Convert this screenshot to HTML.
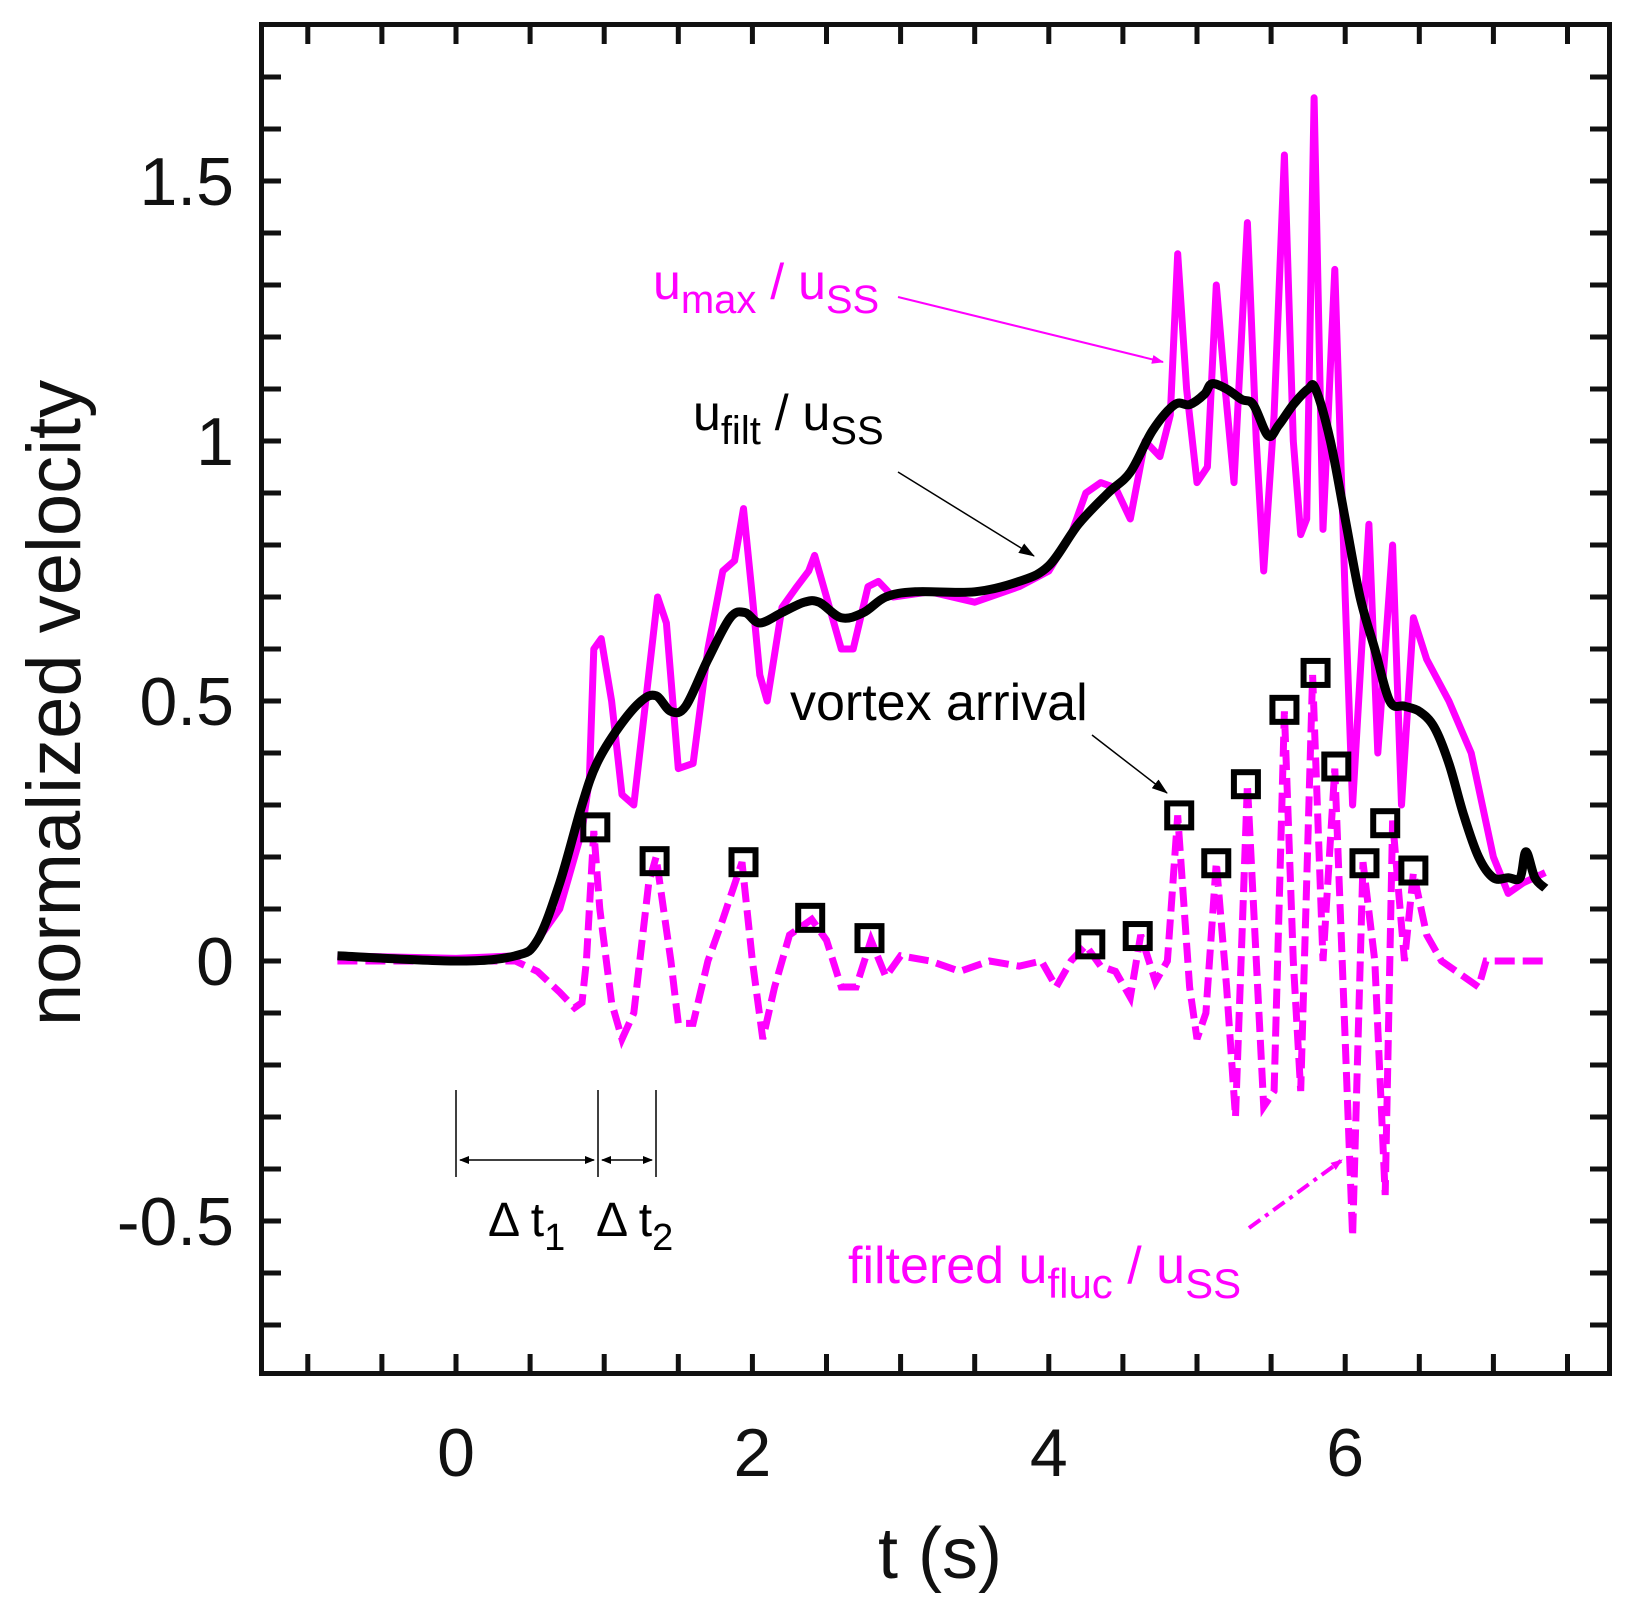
<!DOCTYPE html>
<html><head><meta charset="utf-8"><style>
html,body{margin:0;padding:0;background:#fff;}
svg{display:block;font-family:"Liberation Sans",sans-serif;}
</style></head><body>
<svg id="s" width="1640" height="1609" viewBox="0 0 1640 1609" xmlns="http://www.w3.org/2000/svg">
<defs>
<marker id="am" markerWidth="12" markerHeight="9" refX="11" refY="4.5" orient="auto" markerUnits="userSpaceOnUse"><path d="M0,0 L12,4.5 L0,9 Z" fill="#ff00ff"/></marker>
<marker id="ak" markerWidth="16" markerHeight="11" refX="15" refY="5.5" orient="auto" markerUnits="userSpaceOnUse"><path d="M0,0 L16,5.5 L0,11 Z" fill="#000"/></marker>
<marker id="ak2" markerWidth="10" markerHeight="8" refX="9" refY="4" orient="auto-start-reverse" markerUnits="userSpaceOnUse"><path d="M0,0 L10,4 L0,8 Z" fill="#000"/></marker>
</defs>
<g id="g"></g>
</svg>
<script>
var X=function(t){return 456+148.2*t}, Y=function(v){return 961-520*v};
var g=document.getElementById('g'), h='';
function pl(a,attrs){var p=[];for(var i=0;i<a.length;i+=2)p.push(X(a[i]).toFixed(1)+','+Y(a[i+1]).toFixed(1));h+='<polyline fill="none" points="'+p.join(' ')+'" '+attrs+'/>';}
function smooth(a){var p=[];for(var i=0;i<a.length;i+=2)p.push([X(a[i]),Y(a[i+1])]);var d='M'+p[0][0]+','+p[0][1];for(var i=0;i<p.length-1;i++){var p0=p[Math.max(0,i-1)],p1=p[i],p2=p[i+1],p3=p[Math.min(p.length-1,i+2)];var c1x=p1[0]+(p2[0]-p0[0])/6,c1y=p1[1]+(p2[1]-p0[1])/6,c2x=p2[0]-(p3[0]-p1[0])/6,c2y=p2[1]-(p3[1]-p1[1])/6;d+=' C'+c1x.toFixed(1)+','+c1y.toFixed(1)+' '+c2x.toFixed(1)+','+c2y.toFixed(1)+' '+p2[0].toFixed(1)+','+p2[1].toFixed(1);}return d;}
var umax=[-0.8,0.01,0,0.005,0.4,0.01,0.5,0.02,0.7,0.1,0.85,0.25,0.9,0.35,0.93,0.6,0.98,0.62,1.05,0.5,1.12,0.32,1.2,0.3,1.3,0.55,1.36,0.7,1.42,0.65,1.5,0.37,1.6,0.38,1.7,0.6,1.8,0.75,1.88,0.77,1.94,0.87,2.0,0.7,2.05,0.55,2.1,0.5,2.2,0.68,2.3,0.72,2.38,0.75,2.42,0.78,2.5,0.7,2.6,0.6,2.68,0.6,2.78,0.72,2.85,0.73,2.95,0.7,3.2,0.71,3.5,0.69,3.8,0.72,4.0,0.75,4.15,0.82,4.25,0.9,4.35,0.92,4.45,0.91,4.55,0.85,4.65,1.0,4.75,0.97,4.82,1.05,4.87,1.36,4.93,1.1,5.0,0.92,5.07,0.95,5.13,1.3,5.19,1.1,5.25,0.92,5.34,1.42,5.4,1.0,5.45,0.75,5.52,1.05,5.59,1.55,5.65,1.0,5.7,0.82,5.74,0.85,5.79,1.66,5.85,0.83,5.93,1.33,6.0,0.7,6.05,0.3,6.16,0.84,6.22,0.4,6.32,0.8,6.38,0.3,6.46,0.66,6.55,0.58,6.7,0.5,6.85,0.4,7.0,0.2,7.1,0.13,7.2,0.15,7.35,0.17];
var filt=[-0.8,0.01,0,0.0,0.4,0.01,0.55,0.04,0.7,0.15,0.85,0.3,0.95,0.38,1.1,0.45,1.25,0.5,1.35,0.51,1.45,0.48,1.55,0.49,1.7,0.58,1.85,0.66,1.95,0.67,2.05,0.65,2.2,0.67,2.35,0.69,2.45,0.69,2.6,0.66,2.75,0.67,2.9,0.7,3.1,0.71,3.5,0.71,3.8,0.73,4.0,0.76,4.2,0.84,4.4,0.9,4.55,0.94,4.7,1.02,4.85,1.07,4.95,1.07,5.05,1.09,5.1,1.11,5.2,1.1,5.3,1.08,5.38,1.07,5.48,1.01,5.55,1.03,5.65,1.07,5.75,1.1,5.8,1.1,5.9,1.0,6.0,0.85,6.1,0.7,6.2,0.6,6.3,0.5,6.4,0.49,6.5,0.48,6.6,0.45,6.7,0.38,6.8,0.28,6.9,0.2,7.0,0.16,7.1,0.16,7.18,0.16,7.22,0.21,7.28,0.16,7.35,0.14];
var fluc=[-0.8,0,0.4,0,0.55,-0.02,0.7,-0.06,0.8,-0.09,0.85,-0.08,0.88,0.0,0.93,0.25,0.97,0.1,1.05,-0.08,1.12,-0.15,1.2,-0.1,1.3,0.15,1.35,0.2,1.45,0.0,1.5,-0.12,1.6,-0.12,1.7,0.0,1.8,0.08,1.93,0.19,2.0,0.0,2.07,-0.15,2.15,-0.05,2.25,0.05,2.4,0.08,2.5,0.04,2.6,-0.05,2.7,-0.05,2.8,0.04,2.9,-0.03,3.0,0.01,3.2,0.0,3.4,-0.02,3.6,0.0,3.8,-0.01,3.95,0.0,4.05,-0.05,4.15,0.0,4.25,0.03,4.35,-0.01,4.45,-0.02,4.55,-0.07,4.62,0.05,4.72,-0.04,4.8,0.0,4.87,0.28,4.95,-0.05,5.0,-0.15,5.06,-0.1,5.13,0.19,5.2,-0.05,5.26,-0.3,5.34,0.34,5.4,0.0,5.45,-0.28,5.52,-0.25,5.59,0.48,5.65,0.0,5.7,-0.25,5.78,0.55,5.85,0.0,5.93,0.37,5.98,0.0,6.05,-0.53,6.12,0.19,6.2,0.0,6.27,-0.45,6.32,0.27,6.4,0.0,6.46,0.17,6.55,0.05,6.65,0.0,6.8,-0.03,6.9,-0.05,6.95,0.0,7.1,0.0,7.35,0.0];
pl(umax,'stroke="#ff00ff" stroke-width="7" stroke-linejoin="round"');
pl(fluc,'stroke="#ff00ff" stroke-width="7" stroke-dasharray="20,8"');
h+='<path fill="none" d="'+smooth(filt)+'" stroke="#000" stroke-width="9" stroke-linejoin="round"/>';
var mk=[0.94,0.257,1.34,0.192,1.94,0.19,2.39,0.083,2.79,0.044,4.28,0.032,4.6,0.048,4.88,0.28,5.13,0.188,5.33,0.34,5.59,0.483,5.8,0.554,5.94,0.374,6.13,0.188,6.27,0.265,6.46,0.174];
for(var i=0;i<mk.length;i+=2){h+='<rect x="'+(X(mk[i])-12)+'" y="'+(Y(mk[i+1])-12)+'" width="24" height="24" fill="none" stroke="#000" stroke-width="6"/>';}
var L=259,R=1612,T=22,B=1376;
h+='<rect x="'+(L+2.5)+'" y="'+(T+2.5)+'" width="'+(R-L-5)+'" height="'+(B-T-5)+'" fill="none" stroke="#111" stroke-width="5"/>';
for(var t=-1;t<=7.5;t+=0.5){var x=X(t);h+='<line x1="'+x+'" y1="'+(B-3)+'" x2="'+x+'" y2="'+(B-22)+'" stroke="#111" stroke-width="5"/><line x1="'+x+'" y1="'+(T+3)+'" x2="'+x+'" y2="'+(T+22)+'" stroke="#111" stroke-width="5"/>';}
for(var k=-7;k<=17;k++){var y=Y(k/10);h+='<line x1="'+(L+3)+'" y1="'+y+'" x2="'+(L+22)+'" y2="'+y+'" stroke="#111" stroke-width="5"/><line x1="'+(R-3)+'" y1="'+y+'" x2="'+(R-22)+'" y2="'+y+'" stroke="#111" stroke-width="5"/>';}
var yl=[[1.5,'1.5'],[1,'1'],[0.5,'0.5'],[0,'0'],[-0.5,'-0.5']];
yl.forEach(function(a){h+='<text x="234" y="'+(Y(a[0])+24)+'" font-size="68" text-anchor="end" fill="#111">'+a[1]+'</text>';});
[0,2,4,6].forEach(function(t){h+='<text x="'+X(t)+'" y="1476" font-size="68" text-anchor="middle" fill="#111">'+t+'</text>';});
h+='<text x="940" y="1578" font-size="72" text-anchor="middle" fill="#111">t (s)</text>';
h+='<text transform="translate(80,703) rotate(-90)" font-size="76" text-anchor="middle" fill="#111">normalized velocity</text>';
h+='<text x="653" y="299" font-size="50" fill="#ff00ff">u<tspan font-size="40" dy="14">max</tspan><tspan dy="-14"> / u</tspan><tspan font-size="40" dy="14">SS</tspan></text>';
h+='<line x1="898" y1="297" x2="1163" y2="362" stroke="#ff00ff" stroke-width="2" marker-end="url(#am)"/>';
h+='<text x="693" y="430" font-size="50" fill="#000">u<tspan font-size="40" dy="14">filt</tspan><tspan dy="-14"> / u</tspan><tspan font-size="40" dy="14">SS</tspan></text>';
h+='<line x1="898" y1="472" x2="1034" y2="556" stroke="#000" stroke-width="1.5" marker-end="url(#ak)"/>';
h+='<text x="790" y="720" font-size="52" fill="#000">vortex arrival</text>';
h+='<line x1="1092" y1="735" x2="1167" y2="793" stroke="#000" stroke-width="1.5" marker-end="url(#ak)"/>';
h+='<text x="848" y="1283" font-size="52" fill="#ff00ff">filtered u<tspan font-size="42" dy="15">fluc</tspan><tspan dy="-15"> / u</tspan><tspan font-size="42" dy="15">SS</tspan></text>';
h+='<line x1="1249" y1="1228" x2="1342" y2="1160" stroke="#ff00ff" stroke-width="4" stroke-dasharray="14,6,4,6" marker-end="url(#am)"/>';
[456,598,656].forEach(function(x){h+='<line x1="'+x+'" y1="1090" x2="'+x+'" y2="1177" stroke="#000" stroke-width="1.5"/>';});
h+='<line x1="460" y1="1160" x2="594" y2="1160" stroke="#000" stroke-width="1.5" marker-start="url(#ak2)" marker-end="url(#ak2)"/>';
h+='<line x1="602" y1="1160" x2="652" y2="1160" stroke="#000" stroke-width="1.5" marker-start="url(#ak2)" marker-end="url(#ak2)"/>';
h+='<text x="488" y="1236" font-size="48" fill="#000">Δ t<tspan font-size="38" dy="14">1</tspan></text>';
h+='<text x="596" y="1236" font-size="48" fill="#000">Δ t<tspan font-size="38" dy="14">2</tspan></text>';
g.innerHTML=h;
</script>
</body></html>
